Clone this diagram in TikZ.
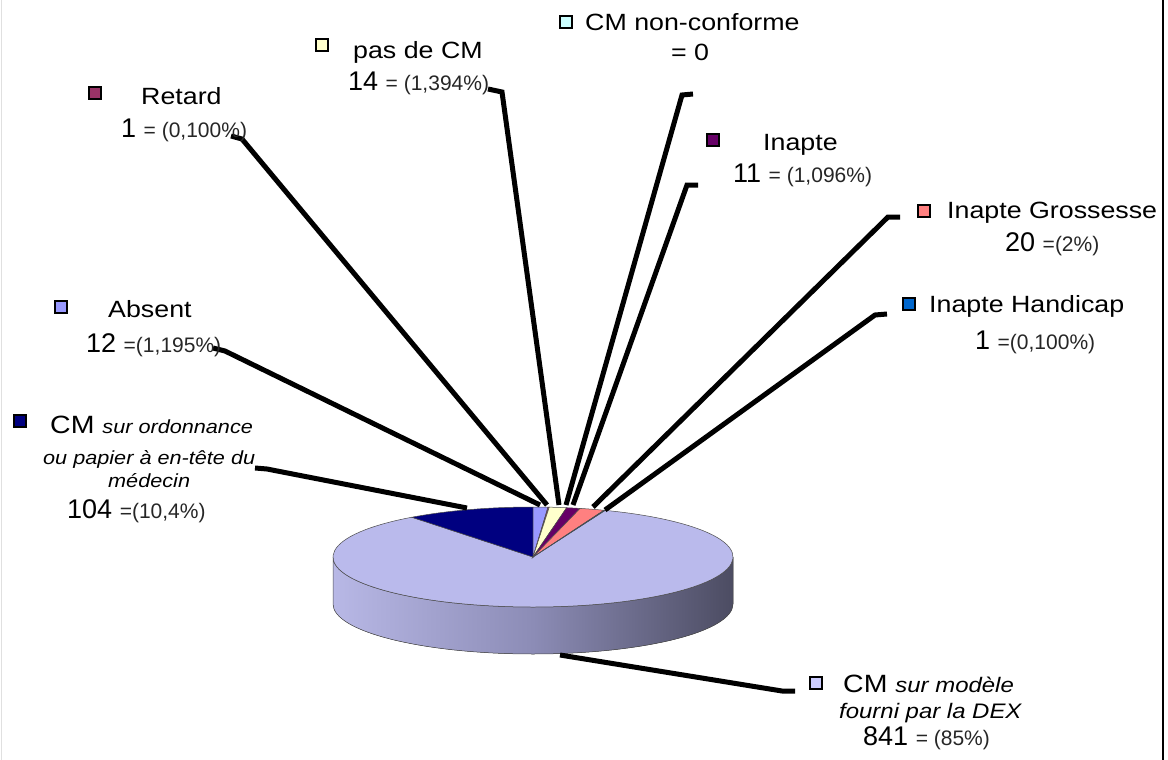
\documentclass[tikz,border=0pt]{standalone}
\usepackage{fontspec}
\setmainfont{Liberation Sans}[FakeStretch=1.14]
\newfontfamily\plainfont{Liberation Sans}
\definecolor{cmmodele}{HTML}{CCCCFF}
\definecolor{cmtop}{RGB}{186,186,236}
\definecolor{cmordo}{HTML}{000080}
\definecolor{absent}{HTML}{9999FF}
\definecolor{retard}{HTML}{993366}
\definecolor{pascm}{HTML}{FFFFCC}
\definecolor{nonconf}{HTML}{CCFFFF}
\definecolor{inapte}{HTML}{660066}
\definecolor{grossesse}{HTML}{FF8080}
\definecolor{handicap}{HTML}{0066CC}
\definecolor{sidelight}{RGB}{184,184,230}
\definecolor{sidemid}{RGB}{140,140,182}
\definecolor{sidedark}{RGB}{76,76,98}
\newcommand\namefont{\fontsize{23.5}{28}\selectfont}
\newcommand\cmfont{\fontsize{25}{30}\selectfont}
\newcommand\numfont{\plainfont\fontsize{27}{32}\selectfont}
\newcommand\pctfont{\plainfont\fontsize{21}{25}\selectfont\color{black!85}}
\newcommand\ordofont{\itshape\fontsize{19}{23}\selectfont}
\newcommand\modfont{\itshape\fontsize{21}{25}\selectfont}
\begin{document}
\begin{tikzpicture}
[x=1pt,y=-1pt,
  keydecorate/.style={draw=black,line width=1.2pt,minimum size=12pt,inner sep=0pt},%
  textdecorate/.style={anchor=base west,inner sep=0pt},%
  leaderdecorate/.style={line width=5pt},%
  slicedecorate/.style={draw=black!70,line width=0.5pt}]
\useasboundingbox (0,0) rectangle (1168,760);
\draw[black!12,line width=1pt] (1,0) -- (1,760);
\draw[line width=2.5pt] (1163,0) -- (1163,760);
%% pie: side of the disc
\coordinate (centre) at (533,557);
\filldraw[slicedecorate,left color=sidelight,right color=sidedark,middle color=sidemid]
  (333,557) -- (333,604) arc[start angle=180,end angle=360,x radius=200pt,y radius=50pt]
  -- (733,557) arc[start angle=360,end angle=180,x radius=200pt,y radius=50pt] -- cycle;
%% pie: slices of the top face
\foreach \col/\a/\b in {cmtop/127.3/428.85, cmordo/90/127.3, absent/85.70/90,
  retard/85.34/85.70, pascm/80.32/85.34, inapte/76.38/80.32,
  grossesse/69.21/76.38, handicap/68.85/69.21} {
  \filldraw[slicedecorate,fill=\col] (centre) -- ++(\a:200pt and 50pt)
    arc[start angle=\a,end angle=\b,x radius=200pt,y radius=50pt] -- cycle;
}
%% leader points
\foreach \name/\xa/\ya/\xb/\yb/\xc/\yc in {retard/231/136/242/139/547/505,
  pascm/488/89/502/92/559/505, nonconf/693/94/682/95/566/505,
  inapte/698/185/687/185/573/505, grossesse/900/217/888/217/593/507,
  handicap/887/314/875/315/605/510, absent/213/348/225/351/540/505,
  cmordo/255/468/267/469/467/508, cmmodele/795/691/782/691/560/655} {
  \coordinate (\name-tick) at (\xa,\ya);
  \coordinate (\name-bend) at (\xb,\yb);
  \coordinate (\name-pie) at (\xc,\yc);
}
\foreach \name in {retard,pascm,nonconf,inapte,grossesse,handicap,absent,cmordo,cmmodele}
  \draw[leaderdecorate] (\name-tick) -- (\name-bend) -- (\name-pie);
%% legend keys
\foreach \name/\x/\y in {retard/95/93, pascm/322/45, nonconf/566/22, inapte/713/140,
  grossesse/924/211, handicap/909/304, absent/61/307, cmordo/20/421, cmmodele/816/683}
  \node[keydecorate,fill=\name] (\name-key) at (\x,\y) {};
%% labels
\node[textdecorate] (retard-name) at (141,104) {\namefont Retard};
\node[textdecorate] (retard-value) at (121,137) {\numfont 1 \pctfont = (0,100\%)};
\node[textdecorate] (pascm-name) at (353,59) {\namefont pas de CM};
\node[textdecorate] (pascm-value) at (348,91) {\numfont 14 \pctfont = (1,394\%)};
\node[textdecorate] (nonconf-name) at (585,31) {\namefont CM non-conforme};
\node[anchor=base,inner sep=0pt] (nonconf-value) at (690,61) {\namefont = 0};
\node[textdecorate] (inapte-name) at (763,150) {\namefont Inapte};
\node[textdecorate] (inapte-value) at (733,182) {\numfont 11 \pctfont = (1,096\%)};
\node[textdecorate] (grossesse-name) at (947,218) {\namefont Inapte Grossesse};
\node[textdecorate] (grossesse-value) at (1005,251) {\numfont 20 \pctfont =(2\%)};
\node[textdecorate] (handicap-name) at (929,312) {\namefont Inapte Handicap};
\node[textdecorate] (handicap-value) at (975,349) {\numfont 1 \pctfont =(0,100\%)};
\node[textdecorate] (absent-name) at (108,317) {\namefont Absent};
\node[textdecorate] (absent-value) at (86,352) {\numfont 12 \pctfont =(1,195\%)};
\node[textdecorate] (cmordo-name) at (50,433) {\cmfont CM \ordofont sur ordonnance};
\node[textdecorate] (cmordo-line2) at (43,464) {\ordofont ou papier à en-tête du};
\node[textdecorate] (cmordo-line3) at (108,487) {\ordofont médecin};
\node[textdecorate] (cmordo-value) at (67,518) {\numfont 104 \pctfont =(10,4\%)};
\node[textdecorate] (cmmodele-name) at (843,692) {\cmfont CM \modfont sur modèle};
\node[textdecorate] (cmmodele-line2) at (839,718) {\modfont fourni par la DEX};
\node[textdecorate] (cmmodele-value) at (863,745) {\numfont 841 \pctfont = (85\%)};
\end{tikzpicture}
\end{document}
